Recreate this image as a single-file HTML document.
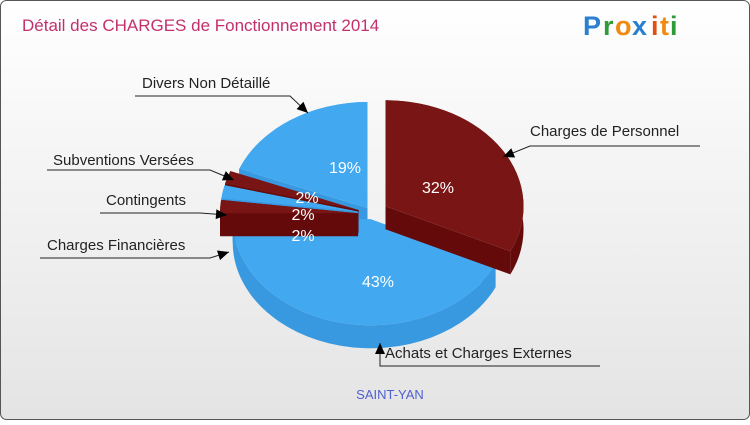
<!DOCTYPE html>
<html><head><meta charset="utf-8"><style>
html,body{margin:0;padding:0;}
body{width:750px;height:420px;overflow:hidden;font-family:"Liberation Sans",sans-serif;}
</style></head><body>
<svg id="chart" width="750" height="420" viewBox="0 0 750 420" xmlns="http://www.w3.org/2000/svg">
<defs>
<linearGradient id="bg" x1="0" y1="0" x2="0" y2="1"><stop offset="0" stop-color="#ffffff"/><stop offset="1" stop-color="#e4e4e4"/></linearGradient>
</defs>
<rect x="0.5" y="0.5" width="749" height="419" rx="6" fill="url(#bg)" stroke="#555" stroke-width="1"/>
<text x="22" y="31" font-size="17" fill="#c3306b">Détail des CHARGES de Fonctionnement 2014</text>
<g font-size="27" font-weight="bold" font-family="'Liberation Sans',sans-serif">
<text x="583" y="35" fill="#2a7fd0">P</text><text x="603" y="35" fill="#2e9a3a">r</text><text x="615" y="35" fill="#f08a10">o</text><text x="632" y="35" fill="#2a7fd0">x</text><text x="651" y="35" fill="#e05010">i</text><text x="660" y="35" fill="#f08a10">t</text><text x="670" y="35" fill="#2e9a3a">i</text>
</g>
<g id="slices"></g>
<g id="labels"></g>
<text x="390" y="399" font-size="13" fill="#5060d0" text-anchor="middle">SAINT-YAN</text>
</svg>
<script>
const categories=["Charges de Personnel","Achats et Charges Externes","Charges Financières","Contingents","Subventions Versées","Divers Non Détaillé"];
const values=[32,43,2,2,2,19];
const pctLabels=["32%","43%","2%","2%","2%","19%"];
const NS="http://www.w3.org/2000/svg";
const cx=372,cy=214,rx=138,ry=106,depth=23;
const explode=[16,6,14,14,14,8];
const drawOrder=[5,1,0,4,3,2];
const tops=["#7a1515","#42a9f0","#7a1515","#42a9f0","#7a1515","#42a9f0"];
const sides=["#650a0a","#3899e0","#650a0a","#3899e0","#650a0a","#3899e0"];
const total=values.reduce((a,b)=>a+b,0);
function pt(x0,y0,a){return [x0+rx*Math.sin(a),y0-ry*Math.cos(a)];}
const g=document.getElementById('slices');
let acc=0;const sl=[];
values.forEach((v,i)=>{const a1=acc/total*2*Math.PI;acc+=v;const a2=acc/total*2*Math.PI;sl.push({i,a1,a2,m:(a1+a2)/2});});
function mk(tag,attrs){const e=document.createElementNS(NS,tag);for(const k in attrs)e.setAttribute(k,attrs[k]);return e;}
drawOrder.forEach(idx=>{
 const s=sl[idx];
 const ox=cx+explode[s.i]*Math.sin(s.m),oy=cy-explode[s.i]*0.9*Math.cos(s.m);
 const grp=document.createElementNS(NS,'g');
 
 
 const p1=pt(ox,oy,s.a1),p2=pt(ox,oy,s.a2);
 const large=(s.a2-s.a1)>Math.PI?1:0;
 [p1,p2].forEach(p=>{grp.appendChild(mk('path',{d:`M${ox},${oy} L${p[0]},${p[1]} L${p[0]},${p[1]+depth} L${ox},${oy+depth}Z`,fill:sides[s.i]}));});
 let d=`M${p1[0]},${p1[1]} A${rx},${ry} 0 ${large} 1 ${p2[0]},${p2[1]} L${p2[0]},${p2[1]+depth} A${rx},${ry} 0 ${large} 0 ${p1[0]},${p1[1]+depth}Z`;
 grp.appendChild(mk('path',{d,fill:sides[s.i]}));
 grp.appendChild(mk('path',{d:`M${ox},${oy} L${p1[0]},${p1[1]} A${rx},${ry} 0 ${large} 1 ${p2[0]},${p2[1]}Z`,fill:tops[s.i]}));
 g.appendChild(grp);
});
const pctPos=[[438,193],[378,287],[303,241],[303,220],[307,203],[345,173]];
sl.forEach(s=>{
 const t=mk('text',{x:pctPos[s.i][0],y:pctPos[s.i][1],'font-size':16,fill:'#fff','text-anchor':'middle'});
 
 
 t.textContent=pctLabels[s.i];g.appendChild(t);
});
const lab=document.getElementById('labels');
const callouts=[
 {t:0,tx:530,ty:136,line:"700,146 530,146 503,157"},
 {t:1,tx:385,ty:358,line:"600,366 380,366 380,343"},
 {t:2,tx:47,ty:250,line:"40,258 210,258 229,252"},
 {t:3,tx:106,ty:205,line:"100,213 200,213 227,215"},
 {t:4,tx:53,ty:165,line:"47,170 210,170 234,180"},
 {t:5,tx:142,ty:88,line:"135,96 290,96 308,113"}];
callouts.forEach(c=>{
 const pts=c.line.split(' ').map(p=>p.split(',').map(Number));
 const l=mk('polyline',{points:c.line,fill:'none',stroke:'#222','stroke-width':1});
 
 
 lab.appendChild(l);
 const a=pts[pts.length-1],b=pts[pts.length-2];
 const ang=Math.atan2(a[1]-b[1],a[0]-b[0]);
 const L=11,W=5;
 const bx=a[0]-L*Math.cos(ang),by=a[1]-L*Math.sin(ang);
 const h=mk('polygon',{points:`${a[0]},${a[1]} ${bx+W*Math.sin(ang)},${by-W*Math.cos(ang)} ${bx-W*Math.sin(ang)},${by+W*Math.cos(ang)}`,fill:'#000'});
 
 
 lab.appendChild(h);
 const t=mk('text',{x:c.tx,y:c.ty,'font-size':15,fill:'#222'});
 
 
 t.textContent=categories[c.t];lab.appendChild(t);
});
</script>
</body></html>
